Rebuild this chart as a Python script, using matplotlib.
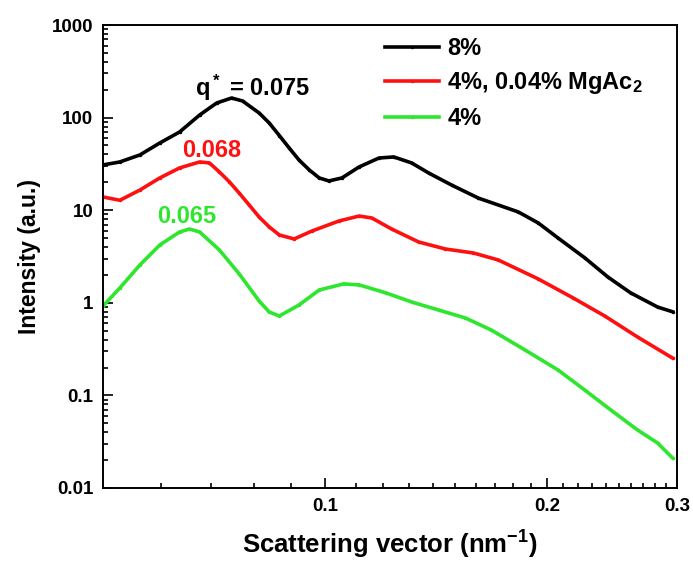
import matplotlib
matplotlib.use('Agg')
import matplotlib.pyplot as plt
from matplotlib.ticker import FixedLocator, FixedFormatter, NullFormatter

plt.rcParams['font.family'] = ['Liberation Sans', 'DejaVu Sans']
plt.rcParams['font.weight'] = 'bold'
plt.rcParams['mathtext.fontset'] = 'custom'
plt.rcParams['mathtext.rm'] = 'Liberation Sans:bold'
plt.rcParams['mathtext.it'] = 'Liberation Sans:bold'
plt.rcParams['mathtext.bf'] = 'Liberation Sans:bold'

# values
q_8 = [0.0500, 0.0527, 0.0561, 0.0597, 0.0635, 0.0676, 0.0713, 0.0747, 0.0773, 0.0814,
       0.0840, 0.0867, 0.0894, 0.0922, 0.0952, 0.0982, 0.1012, 0.1054, 0.1112, 0.1183,
       0.1239, 0.1310, 0.1382, 0.1484, 0.1614, 0.1828, 0.1945, 0.2069, 0.2250, 0.2417,
       0.2595, 0.2823, 0.2958]
i_8 = [30.8, 33.2, 39.5, 53.2, 69.9, 106.6, 143.8, 162.8, 151.1, 112.2,
       87.5, 64.0, 47.0, 34.8, 27.2, 22.3, 20.7, 22.3, 29.3, 36.6,
       37.6, 32.4, 25.2, 18.7, 13.5, 9.57, 7.28, 5.01, 3.05, 1.90,
       1.28, 0.90, 0.80]

q_mg = [0.0500, 0.0527, 0.0561, 0.0597, 0.0635, 0.0676, 0.0697, 0.0719, 0.0742, 0.0765,
        0.0789, 0.0814, 0.0840, 0.0867, 0.0908, 0.0960, 0.1044, 0.1112, 0.1157, 0.1231,
        0.1339, 0.1456, 0.1589, 0.1717, 0.1945, 0.2168, 0.2394, 0.2652, 0.2958]
i_mg = [13.9, 12.8, 16.5, 22.3, 28.6, 33.2, 32.4, 25.9, 20.2, 15.3,
        11.4, 8.44, 6.6, 5.40, 4.89, 5.96, 7.64, 8.65, 8.24, 6.26,
        4.54, 3.81, 3.45, 2.90, 1.81, 1.13, 0.72, 0.427, 0.253]

q_4 = [0.0500, 0.0527, 0.0561, 0.0597, 0.0635, 0.0655, 0.0676, 0.0719, 0.0765, 0.0814,
       0.0840, 0.0867, 0.0922, 0.0982, 0.1060, 0.1112, 0.1209, 0.1310, 0.1425, 0.1550,
       0.1680, 0.1867, 0.2069, 0.2250, 0.2439, 0.2652, 0.2823, 0.2958]
i_4 = [0.923, 1.445, 2.56, 4.21, 5.82, 6.26, 5.82, 3.72, 2.05, 1.045,
       0.796, 0.720, 0.947, 1.375, 1.60, 1.56, 1.28, 1.02, 0.836, 0.685,
       0.508, 0.309, 0.188, 0.114, 0.0696, 0.0423, 0.0306, 0.0211]

labels = ['8%', '4%, 0.04% MgAc$_2$', '4%']
colors = ['black', '#ff1010', '#2ee62e']
peak_texts = ['q$^*$ = 0.075', '0.068', '0.065']

x_ticks = [0.1, 0.2, 0.3]
x_minor = [0.06, 0.07, 0.08, 0.09] + [0.11 + 0.01 * k for k in range(9)] + [0.21 + 0.01 * k for k in range(9)]
y_ticks = [0.01, 0.1, 1, 10, 100, 1000]
y_ticklabels = ['0.01', '0.1', '1', '10', '100', '1000']

fig = plt.figure(figsize=(6.93, 5.71), dpi=100)
ax = fig.add_axes([0.1486, 0.1454, 0.8284, 0.8108])

series = [(q_8, i_8), (q_mg, i_mg), (q_4, i_4)]
for (q, inten), lab, col in zip(series, labels, colors):
    ax.plot(q, inten, color=col, lw=2.6, marker='.', ms=3, label=lab)

ax.set_xscale('log')
ax.set_yscale('log')
ax.set_xlim(0.05, 0.3)
ax.set_ylim(0.01, 1000)

ax.xaxis.set_major_locator(FixedLocator(x_ticks))
ax.xaxis.set_major_formatter(FixedFormatter(['0.1', '0.2', '0.3']))
ax.xaxis.set_minor_locator(FixedLocator(x_minor))
ax.xaxis.set_minor_formatter(NullFormatter())
ax.yaxis.set_major_locator(FixedLocator(y_ticks))
ax.yaxis.set_major_formatter(FixedFormatter(y_ticklabels))

ax.tick_params(which='both', direction='in', labelsize=13.5, width=1.2)
ax.tick_params(which='major', length=7, pad=7)
ax.tick_params(which='minor', length=3.5)
for sp in ax.spines.values():
    sp.set_linewidth(1.4)

ax.set_xlabel('Scattering vector (nm$^{-1}$)', fontsize=18.5, fontweight='bold', labelpad=10)
ax.set_ylabel('Intensity (a.u.)', fontsize=16.5, fontweight='bold', labelpad=8)

# peak positions
text_pos = [(0.160, 0.864), (0.1376, 0.730), (0.094, 0.587)]
for (tx, ty), txt, col in zip(text_pos, peak_texts, colors):
    ax.text(tx, ty, txt, color=col, fontsize=17, fontweight='bold',
            transform=ax.transAxes, va='center', ha='left')

leg = ax.legend(loc='upper left', bbox_to_anchor=(0.47, 1.0), frameon=False,
                fontsize=17, handlelength=2.3, handletextpad=0.35,
                labelspacing=0.45, borderaxespad=0.3, borderpad=0.2)

fig.savefig('out.png', dpi=100)
